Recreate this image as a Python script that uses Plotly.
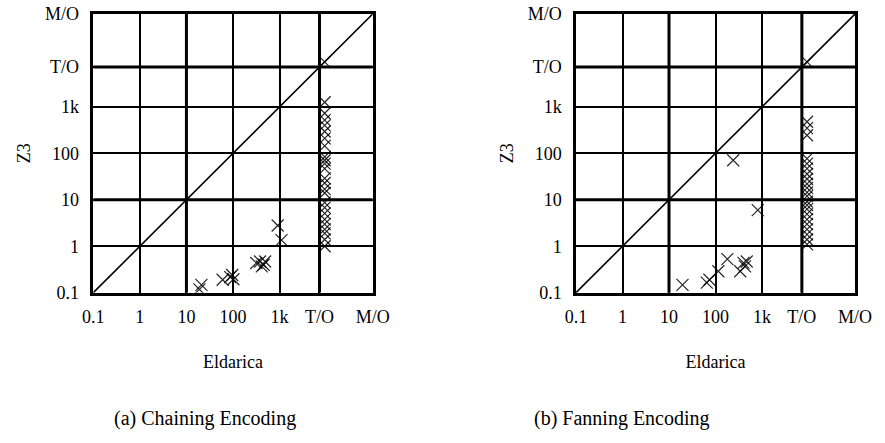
import plotly.graph_objects as go

# ---- data ----
tick_vals = [0.1, 1, 10, 100, 1000, 7200, 100000]
tick_text = ["0.1", "1", "10", "100", "1k", "T/O", "M/O"]
thick_vals = [10, 7200]
TO_POINT = 9300  # where timed-out runs are plotted

diag = [0.1, 100000]

a_solved_x = [19, 21, 60, 87, 96, 102, 316, 380, 415, 455, 490, 910, 1100]
a_solved_y = [0.118, 0.147, 0.19, 0.216, 0.24, 0.195, 0.435, 0.47, 0.37, 0.40, 0.47, 2.8, 1.35]
a_timeout_y = [1260, 730, 520, 400, 295, 210, 145, 84, 71, 60, 47, 29, 23, 17, 14,
               8.7, 6.8, 5.1, 3.8, 3.0, 2.3, 1.9, 1.4, 1.0]

b_solved_x = [19.5, 65, 74, 115, 180, 240, 340, 400, 430, 470, 810]
b_solved_y = [0.147, 0.165, 0.19, 0.29, 0.53, 71, 0.29, 0.44, 0.37, 0.47, 6.0]
b_timeout_y = [480, 350, 245, 77, 60, 47, 36, 28, 22, 18, 14.5, 12, 9.1, 7.7, 6.3,
               4.9, 3.8, 3.0, 2.3, 1.8, 1.4, 1.1]

captions = ["(a) Chaining Encoding", "(b) Fanning Encoding"]

FONT = "Liberation Serif, Times New Roman, serif"
W, H = 885, 443

fig = go.Figure()

panels = [
    (a_solved_x, a_solved_y, a_timeout_y, "x", "y", [93.3 / W, 372.7 / W], 205 / W),
    (b_solved_x, b_solved_y, b_timeout_y, "x2", "y2", [576 / W, 855 / W], 622 / W),
]
ydom = [1 - 292.7 / H, 1 - 14 / H]

marker = dict(symbol="x-thin", size=12, line=dict(color="rgba(0,0,0,0.85)", width=1.2))
tfont = dict(family=FONT, size=18, color="black")
cfont = dict(family=FONT, size=20, color="black")

for i, (sx, sy, ty, xa, ya, xdom, capx) in enumerate(panels):
    fig.add_trace(go.Scatter(x=diag, y=diag, mode="lines", xaxis=xa, yaxis=ya,
                             line=dict(color="black", width=1.6), showlegend=False,
                             hoverinfo="skip"))
    xs = list(sx) + [TO_POINT] * len(ty) + [TO_POINT]
    ys = list(sy) + list(ty) + [TO_POINT]
    fig.add_trace(go.Scatter(x=xs, y=ys, mode="markers", xaxis=xa, yaxis=ya,
                             marker=marker, showlegend=False))
    sfx = "" if i == 0 else "2"
    axcommon = dict(type="log", range=[-1, 5], tickvals=tick_vals, ticktext=tick_text,
                    showgrid=True, gridcolor="black", gridwidth=2, zeroline=False,
                    showline=True, linecolor="black", linewidth=2.5, mirror=True,
                    ticks="", tickfont=tfont, automargin=False)
    fig.update_layout(**{
        "xaxis" + sfx: dict(axcommon, domain=xdom, anchor="y" + sfx,
                            ticklabelstandoff=6,
                            title=dict(text="Eldarica", font=tfont, standoff=30)),
        "yaxis" + sfx: dict(axcommon, domain=ydom, anchor="x" + sfx,
                            ticklabelstandoff=8,
                            title=dict(text="Z3", font=tfont, standoff=10)),
    })
    for v in thick_vals:
        fig.add_shape(type="line", xref=xa, yref=ya, x0=v, x1=v, y0=diag[0], y1=diag[1],
                      line=dict(color="black", width=3), layer="below")
        fig.add_shape(type="line", xref=xa, yref=ya, y0=v, y1=v, x0=diag[0], x1=diag[1],
                      line=dict(color="black", width=3), layer="below")
    fig.add_annotation(text=captions[i], xref="paper", yref="paper",
                       x=capx, y=1 - 418 / H, xanchor="center", yanchor="middle",
                       showarrow=False, font=cfont)

fig.update_layout(width=W, height=H, margin=dict(l=0, r=0, t=0, b=0),
                  plot_bgcolor="white", paper_bgcolor="white")

fig.write_html("out.html", config={"displayModeBar": False},
               post_script="document.body.style.margin='0';")
